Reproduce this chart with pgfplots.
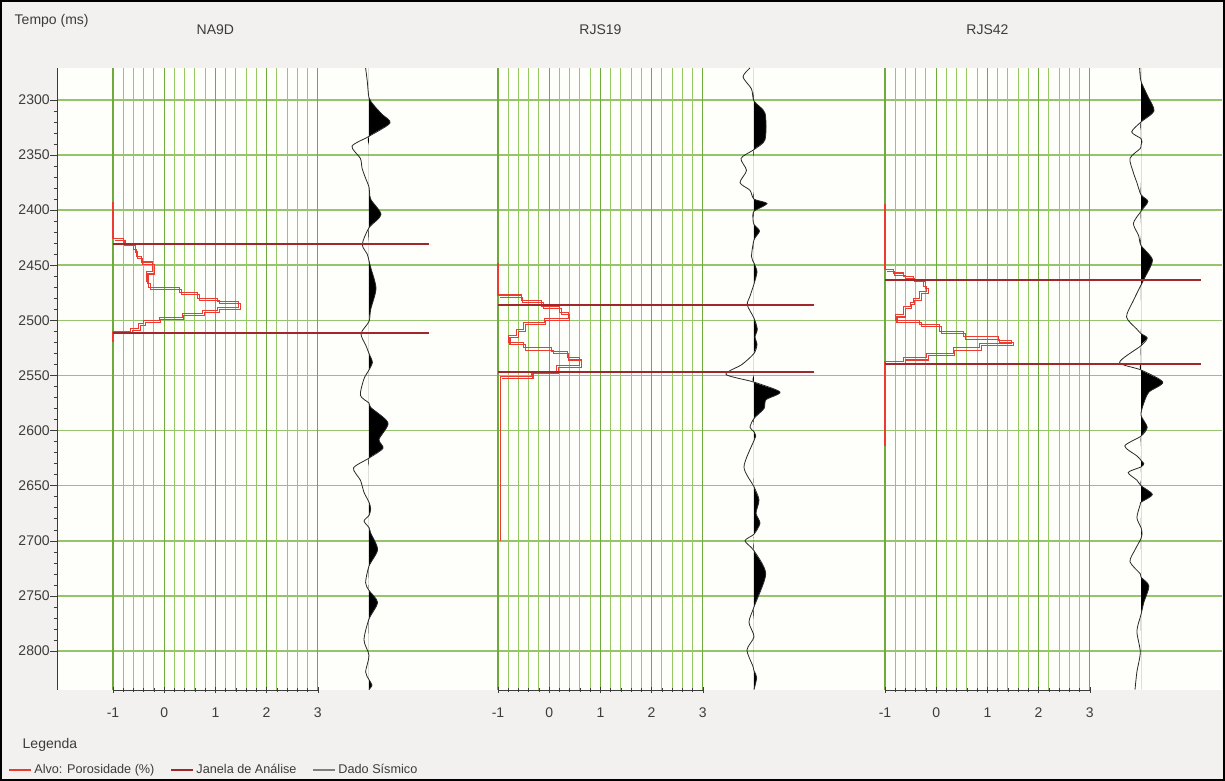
\documentclass[border=0pt]{standalone}
\usepackage{fontspec}
\setmainfont{Liberation Sans}
\usepackage{pgfplots}
\pgfplotsset{compat=1.18}
\usepackage{pgfplotstable}
\definecolor{bg}{RGB}{243,241,239}
\definecolor{plotbg}{RGB}{254,254,250}
\definecolor{hgrid}{RGB}{150,195,110}
\definecolor{vmaj}{RGB}{110,170,60}
\definecolor{vmin}{RGB}{150,200,100}
\definecolor{alvo}{RGB}{235,60,50}
\definecolor{janela}{RGB}{160,40,45}
\definecolor{txt}{RGB}{60,60,60}
\definecolor{seis}{RGB}{40,40,40}

% seismic traces: t (ms), amplitude (px from baseline)
\pgfplotstableread{
t a
2271 -3.4
2283 -1.7
2298 0
2305 5
2313 13
2321 21
2333 0
2342 -17
2353 -8.6
2362 -6.9
2371 -3.4
2379 0
2390 1.7
2404 12
2416 0
2431 -6.7
2440 -1.7
2446 0
2452 1.7
2471 7
2490 1.7
2501 0
2512 -8
2523 -3
2530 0
2538 3.4
2545 0
2553 -5
2568 -8.6
2575 0
2579 1.7
2593 19
2608 10
2616 14
2625 0
2634 -15.5
2645 -8.6
2656 -5
2665 0
2671 1.7
2677 0
2682 -5
2688 0
2693 1.7
2708 8.6
2723 0
2738 -3.4
2745 0
2756 8.6
2771 0
2790 -5
2804 0
2819 -3.4
2826 0
2831 3
2835 0
}\seisA
\pgfplotstableread{
t a
2271 -4
2279 -11
2290 -2.5
2301 0
2312 11
2336 11
2345 0
2353 -13
2364 -7.5
2375 -14
2382 -4
2390 0
2394 13
2401 0
2408 -1
2413 0
2419 5.5
2427 0
2442 -2.5
2448 0
2456 3
2467 0
2478 -4
2486 -6.7
2498 0
2508 3.3
2515 1
2522 3
2530 0
2540 -12
2549 -28
2556 0
2565 26
2572 12
2580 10
2589 0
2597 -4
2601 0
2605 1.7
2609 0
2633 -10
2651 0
2663 5
2675 2
2684 6
2694 0
2700 -9
2709 0
2730 11.7
2760 0
2774 -5
2787 0
2799 -7
2814 -1
2818 0
2824 2.7
2835 0
}\seisB
\pgfplotstableread{
t a
2271 -1.4
2283 0
2297 7
2310 13
2320 0
2329 -9.3
2335 0
2338 1
2341 0
2344 -0.7
2353 -11
2366 -7.6
2375 -4.1
2386 0
2392 6.9
2401 0
2412 -7.6
2423 -2.4
2432 0
2445 11.4
2460 4.5
2468 0
2482 -7.6
2497 -14.5
2508 -4.1
2512 0
2516 6.2
2523 0
2538 -21.4
2545 0
2556 21.8
2565 8
2575 2.8
2586 0
2597 6.2
2605 0
2614 -16.2
2623 -4.1
2627 0
2630 2.8
2633 0
2638 -12.8
2645 -4.1
2650 0
2658 11.4
2665 0
2667 -0.7
2679 -4.1
2688 0
2693 1
2698 0
2708 -5.9
2719 -11
2730 -0.7
2733 0
2741 7.9
2756 2.8
2767 0
2782 -4.1
2801 -0.7
2819 -4.1
2835 -6
}\seisC

% porosity step curves (x = porosity, y = time)
\pgfplotstableread{
p t
-1 2393
-1 2426
-0.8 2426
-0.8 2430
-0.6 2430
-0.6 2436
-0.55 2436
-0.55 2442
-0.45 2442
-0.45 2447
-0.22 2447
-0.22 2456
-0.35 2456
-0.35 2465
-0.3 2465
-0.3 2470
0.3 2470
0.3 2475
0.65 2475
0.65 2480
1.05 2480
1.05 2483
1.45 2483
1.45 2488
1.05 2488
1.05 2491
0.75 2491
0.75 2494
0.35 2494
0.35 2497
-0.1 2497
-0.1 2500
-0.4 2500
-0.4 2503
-0.5 2503
-0.5 2507
-0.65 2507
-0.65 2510
-1 2510
-1 2520
}\poroA
\pgfplotstableread{
p t
-1 2448
-1 2477
-0.55 2477
-0.55 2482
-0.15 2482
-0.15 2487
0.2 2487
0.2 2493
0.37 2493
0.37 2498
-0.1 2498
-0.1 2502
-0.5 2502
-0.5 2508
-0.63 2508
-0.63 2514
-0.8 2514
-0.8 2520
-0.5 2520
-0.5 2525
0.05 2525
0.05 2528
0.35 2528
0.35 2534
0.6 2534
0.6 2541
0.15 2541
0.15 2546
-0.35 2546
-0.35 2551
-0.96 2551
-0.96 2700
}\poroB
\pgfplotstableread{
p t
-1 2394
-1 2454
-0.84 2454
-0.84 2457
-0.64 2457
-0.64 2460
-0.45 2460
-0.45 2463
-0.25 2463
-0.25 2469
-0.19 2469
-0.19 2474
-0.32 2474
-0.32 2480
-0.45 2480
-0.45 2484
-0.51 2484
-0.51 2487
-0.64 2487
-0.64 2495
-0.8 2495
-0.8 2500
-0.32 2500
-0.32 2504
0.07 2504
0.07 2510
0.53 2510
0.53 2515
1.21 2515
1.21 2518
1.47 2518
1.47 2521
0.85 2521
0.85 2525
0.33 2525
0.33 2530
-0.19 2530
-0.19 2534
-0.64 2534
-0.64 2537
-1 2537
-1 2614
}\poroC

\pgfplotsset{
  panel/.style={scale only axis, width=153.6pt, height=466.5pt, anchor=north west,
    xmin=-1, xmax=3, ymin=2271, ymax=2835.4, y dir=reverse, clip=false,
    axis y line=none, axis x line*=bottom,
    xtick={-1,0,1,2,3}, minor x tick num=4,
    xmajorgrids, xminorgrids,
    major grid style={vmaj, line width=0.8pt},
    minor grid style={vmin, line width=0.75pt},
    tick align=center, major tick length=4pt, minor tick length=2.5pt,
    every tick/.style={txt},
    x axis line style={txt, line width=0.6pt},
    ticklabel style={font=\fontsize{10.5}{12}\selectfont, text=txt},
    xticklabel style={yshift=-8pt},
    /pgf/number format/assume math mode=true,
    title style={at={(0.5,1)}, anchor=center, yshift=23pt, font=\fontsize{10.5}{12}\selectfont, text=txt}},
  alvoline/.style={alvo, line width=0.8pt},
  alvoshift/.style={alvo, line width=0.8pt, xshift=1.3pt, yshift=-1.6pt},
  janline/.style={janela, line width=1.5pt},
  trace/.style={seis, line width=0.6pt, smooth, tension=0.45},
  lobe/.style={fill=black, draw=none, smooth, tension=0.45},
}

\begin{document}
\begin{tikzpicture}
\draw[fill=bg, line width=1.5pt] (0.75pt,-0.75pt) rectangle (918pt,-585pt);
\node[anchor=west, font=\fontsize{10.5}{12}\selectfont, text=txt] at (7.5pt,-16pt) {Tempo (ms)};
\node[anchor=west, font=\fontsize{10.5}{12}\selectfont, text=txt] at (13.5pt,-558.75pt) {Legenda};

% main axis: time scale and horizontal grid
\begin{axis}[at={(42.75pt,-51pt)}, anchor=north west, scale only axis,
  width=873.75pt, height=466.5pt,
  xmin=57, xmax=1222, ymin=2271, ymax=2835.4, y dir=reverse,
  axis background/.style={fill=plotbg},
  axis x line=none, axis y line*=left, xtick=\empty,
  ytick={2300,2350,...,2800}, minor y tick num=4,
  ymajorgrids, major grid style={hgrid, line width=1.2pt},
  tick align=outside, major tick length=5pt, minor tick length=2.5pt,
  every tick/.style={txt},
  y axis line style={txt, line width=0.7pt},
  yticklabel style={font=\fontsize{10.5}{12}\selectfont, text=txt, xshift=3pt},
  /pgf/number format/set thousands separator={},
  /pgf/number format/assume math mode=true,
  legend style={at={(-0.042,-0.1286)}, anchor=west, draw=none, fill=none, inner sep=0pt,
    font=\fontsize{9.5}{11}\selectfont, text=txt},
  legend columns=3,
  legend cell align=left,
  /tikz/every even column/.append style={column sep=10pt},
  legend image code/.code={\draw[#1] (0pt,0pt) -- (16pt,0pt);},
]
\addlegendimage{alvo, line width=1.5pt}
\addlegendentry{Alvo: Porosidade (\%)}
\addlegendimage{janela, line width=1.5pt}
\addlegendentry{Janela de Análise}
\addlegendimage{gray, line width=1.5pt}
\addlegendentry{Dado Sísmico}
\end{axis}

% ---------- NA9D ----------
\begin{axis}[panel, at={(84.75pt,-51pt)}, title={NA9D}]
\addplot[lobe] table[x expr={4.0+max(\thisrow{a},0)/51.2}, y=t] {\seisA} -- cycle;
\addplot[trace] table[x expr={4.0+\thisrow{a}/51.2}, y=t] {\seisA};
\addplot[alvoline] table[x=p, y=t] {\poroA};
\addplot[alvoshift] table[x=p, y=t, skip coords between index={0}{1}, skip coords between index={39}{40}] {\poroA};
\addplot[janline] coordinates {(-1,2431) (5.17,2431)};
\addplot[janline] coordinates {(-1,2511) (5.17,2511)};
\end{axis}

% ---------- RJS19 ----------
\begin{axis}[panel, at={(373.5pt,-51pt)}, title={RJS19}]
\addplot[lobe] table[x expr={4.0+max(\thisrow{a},0)/51.2}, y=t] {\seisB} -- cycle;
\addplot[trace] table[x expr={4.0+\thisrow{a}/51.2}, y=t] {\seisB};
\addplot[alvoline] table[x=p, y=t] {\poroB};
\addplot[alvoshift] table[x=p, y=t, skip coords between index={0}{1}, skip coords between index={31}{32}] {\poroB};
\addplot[janline] coordinates {(-1,2486) (5.17,2486)};
\addplot[janline] coordinates {(-1,2547) (5.17,2547)};
\end{axis}

% ---------- RJS42 ----------
\begin{axis}[panel, at={(663.75pt,-51pt)}, title={RJS42}]
\addplot[lobe] table[x expr={4.0+max(\thisrow{a},0)/51.2}, y=t] {\seisC} -- cycle;
\addplot[trace] table[x expr={4.0+\thisrow{a}/51.2}, y=t] {\seisC};
\addplot[alvoline] table[x=p, y=t] {\poroC};
\addplot[alvoshift] table[x=p, y=t, skip coords between index={0}{1}, skip coords between index={41}{42}] {\poroC};
\addplot[janline] coordinates {(-1,2463) (5.17,2463)};
\addplot[janline] coordinates {(-1,2540) (5.17,2540)};
\end{axis}
\end{tikzpicture}
\end{document}
